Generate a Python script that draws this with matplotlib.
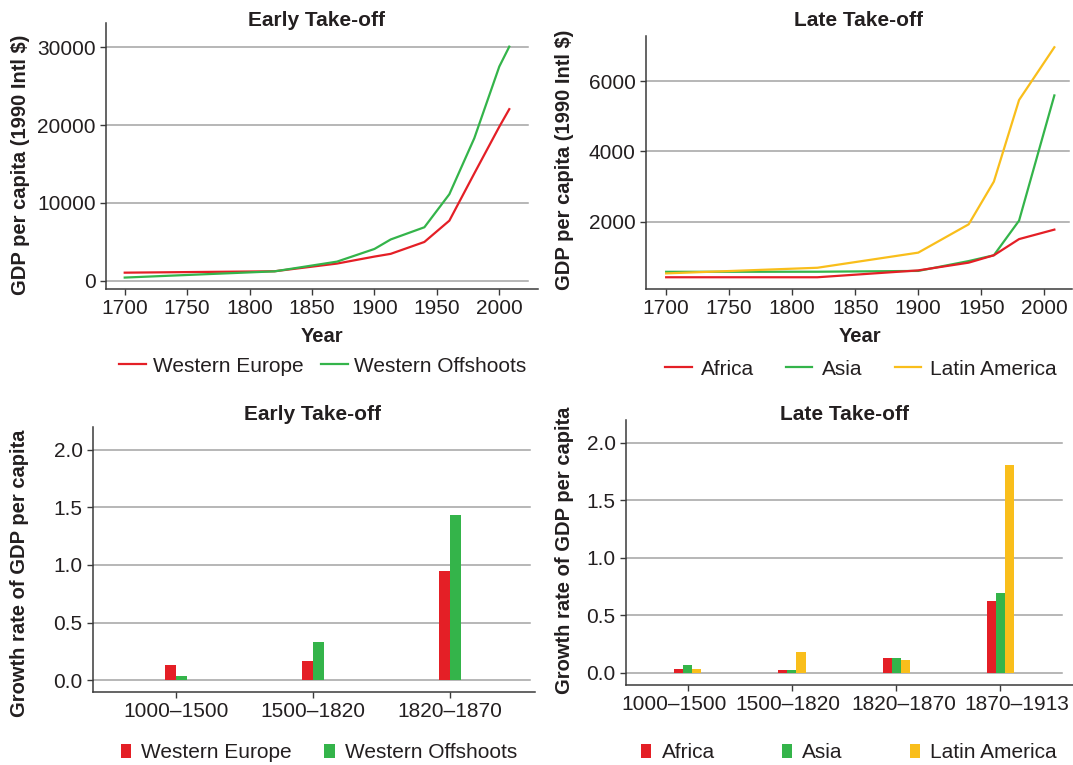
import matplotlib
matplotlib.use('Agg')
import matplotlib.pyplot as plt
import matplotlib.transforms as mtransforms
import numpy as np

# datos
early_years = [1700, 1820, 1870, 1900, 1913, 1940, 1960, 1980, 2000, 2008]
western_europe = [1030, 1210, 2200, 3100, 3450, 4980, 7720, 13800, 19800, 22060]
western_offshoots = [400, 1200, 2450, 4080, 5300, 6870, 11120, 18330, 27540, 30100]

late_years = [1700, 1820, 1900, 1940, 1960, 1980, 2008]
africa = [420, 420, 615, 835, 1045, 1505, 1775]
asia = [575, 577, 600, 880, 1045, 2030, 5590]
latin_america = [530, 690, 1120, 1925, 3140, 5460, 6960]

early_periods = ['1000–1500', '1500–1820', '1820–1870']
growth_we = [0.13, 0.17, 0.95]
growth_wo = [0.035, 0.33, 1.43]

late_periods = ['1000–1500', '1500–1820', '1820–1870', '1870–1913']
growth_africa = [0.032, 0.023, 0.128, 0.625]
growth_asia = [0.067, 0.023, 0.128, 0.693]
growth_latam = [0.032, 0.18, 0.11, 1.806]

RED = '#e41f26'
GREEN = '#34b44a'
YELLOW = '#f9be1b'
INK = '#231f20'
GRID = '#a3a3a3'

W, H = 1073, 765
plt.rcParams['font.family'] = ['Liberation Sans', 'DejaVu Sans']
plt.rcParams['text.color'] = INK
plt.rcParams['axes.labelcolor'] = INK
plt.rcParams['xtick.color'] = INK
plt.rcParams['ytick.color'] = INK

fig = plt.figure(figsize=(W / 100, H / 100), dpi=100)


def px_box(x0, y0, x1, y1):
    # caja en pixeles (izq, arriba, der, abajo) -> fraccion de figura
    return [x0 / W, 1 - y1 / H, (x1 - x0) / W, (y1 - y0) / H]


def estilo(ax, grid_end):
    for s in ['top', 'right']:
        ax.spines[s].set_visible(False)
    for s in ['left', 'bottom']:
        ax.spines[s].set_color('#3a3a3a')
        ax.spines[s].set_linewidth(1.1)
    ax.tick_params(axis='both', labelsize=15, length=4.5, width=1, pad=3, color='#3a3a3a')
    x0, x1 = ax.get_xlim()
    frac = (grid_end - x0) / (x1 - x0)
    y0, y1 = ax.get_ylim()
    for t in ax.get_yticks():
        if y0 <= t <= y1:
            ax.axhline(t, xmin=0, xmax=frac, color=GRID, lw=1.1, zorder=0)


def fig_text(x, y, s, **kw):
    fig.text(x / W, 1 - y / H, s, ha='center', va='center', **kw)


# ---- arriba izquierda: lineas early take-off
ax1 = fig.add_axes(px_box(106, 23, 538, 289))
ax1.plot(early_years, western_europe, color=RED, lw=1.6, label='Western Europe', zorder=3)
ax1.plot(early_years, western_offshoots, color=GREEN, lw=1.6, label='Western Offshoots', zorder=4)
ax1.set_xlim(1685, 2031)
ax1.set_ylim(-1070, 33140)
ax1.set_xticks(range(1700, 2001, 50))
ax1.set_yticks([0, 10000, 20000, 30000])
estilo(ax1, 2023)
fig_text(316, 20, 'Early Take-off', fontsize=15, fontweight='bold')
fig_text(322, 336, 'Year', fontsize=14.5, fontweight='bold')
fig_text(21, 165, 'GDP per capita (1990 Intl $)', fontsize=14.5, fontweight='bold', rotation=90)
h, l = ax1.get_legend_handles_labels()
fig.legend(h, l, loc='center', bbox_to_anchor=(323 / W, 1 - 366 / H), ncol=2, frameon=False,
           fontsize=15, handlelength=1.3, handletextpad=0.3, columnspacing=0.85)

# ---- arriba derecha: lineas late take-off
ax2 = fig.add_axes(px_box(646, 36, 1072, 289))
ax2.plot(late_years, asia, color=GREEN, lw=1.6, label='Asia', zorder=3)
ax2.plot(late_years, africa, color=RED, lw=1.6, label='Africa', zorder=4)
ax2.plot(late_years, latin_america, color=YELLOW, lw=1.6, label='Latin America', zorder=3)
ax2.set_xlim(1684, 2022)
ax2.set_ylim(86, 7280)
ax2.set_xticks(range(1700, 2001, 50))
ax2.set_yticks([2000, 4000, 6000])
estilo(ax2, 2020)
fig_text(858, 21, 'Late Take-off', fontsize=15, fontweight='bold')
fig_text(860, 337, 'Year', fontsize=14.5, fontweight='bold')
fig_text(565, 160, 'GDP per capita (1990 Intl $)', fontsize=14.5, fontweight='bold', rotation=90)
h, l = ax2.get_legend_handles_labels()
orden = [1, 0, 2]
fig.legend([h[i] for i in orden], [l[i] for i in orden], loc='center',
           bbox_to_anchor=(861 / W, 1 - 369 / H), ncol=3, frameon=False,
           fontsize=15, handlelength=1.25, handletextpad=0.45, columnspacing=1.55)

# ---- abajo izquierda: barras early
ax3 = fig.add_axes(px_box(93, 427, 535, 692))
x = np.arange(len(early_periods))
bw = 0.078
ax3.bar(x - bw / 2, growth_we, bw, color=RED, label='Western Europe', zorder=3)
ax3.bar(x + bw / 2, growth_wo, bw, color=GREEN, label='Western Offshoots', zorder=3)
ax3.set_xlim(-0.604, 2.62)
ax3.set_ylim(-0.102, 2.197)
ax3.set_xticks(x)
ax3.set_xticklabels(early_periods)
ax3.set_yticks([0, 0.5, 1.0, 1.5, 2.0])
ax3.set_yticklabels(['0.0', '0.5', '1.0', '1.5', '2.0'])
estilo(ax3, 2.584)
fig_text(312, 415, 'Early Take-off', fontsize=15, fontweight='bold')
fig_text(20, 573, 'Growth rate of GDP per capita', fontsize=14.5, fontweight='bold', rotation=90)
h, l = ax3.get_legend_handles_labels()
fig.legend(h, l, loc='center', bbox_to_anchor=(319 / W, 1 - 753 / H), ncol=2, frameon=False,
           fontsize=15, handlelength=0.5, handleheight=0.65, handletextpad=0.5, columnspacing=1.55)

# ---- abajo derecha: barras late
ax4 = fig.add_axes(px_box(626, 420, 1073, 685))
x = np.arange(len(late_periods))
bw = 0.087
ax4.bar(x - bw, growth_africa, bw, color=RED, label='Africa', zorder=3)
ax4.bar(x, growth_asia, bw, color=GREEN, label='Asia', zorder=3)
ax4.bar(x + bw, growth_latam, bw, color=YELLOW, label='Latin America', zorder=3)
ax4.set_xlim(-0.593, 3.698)
ax4.set_ylim(-0.107, 2.197)
ax4.set_xticks(x)
ax4.set_xticklabels(late_periods)
ax4.set_yticks([0, 0.5, 1.0, 1.5, 2.0])
ax4.set_yticklabels(['0.0', '0.5', '1.0', '1.5', '2.0'])
estilo(ax4, 3.59)
# las etiquetas estan separadas un poco para que no se toquen
desplaz = [-14, -4, 8, 17]
for lab, dx in zip(ax4.get_xticklabels(), desplaz):
    lab.set_transform(lab.get_transform() + mtransforms.ScaledTranslation(dx / 100, 0, fig.dpi_scale_trans))
fig_text(844, 415, 'Late Take-off', fontsize=15, fontweight='bold')
fig_text(565, 550, 'Growth rate of GDP per capita', fontsize=14.5, fontweight='bold', rotation=90)
h, l = ax4.get_legend_handles_labels()
fig.legend(h, l, loc='center', bbox_to_anchor=(849 / W, 1 - 753 / H), ncol=3, frameon=False,
           fontsize=15, handlelength=0.5, handleheight=0.65, handletextpad=0.5, columnspacing=3.2)

plt.savefig('out.png', dpi=100)
